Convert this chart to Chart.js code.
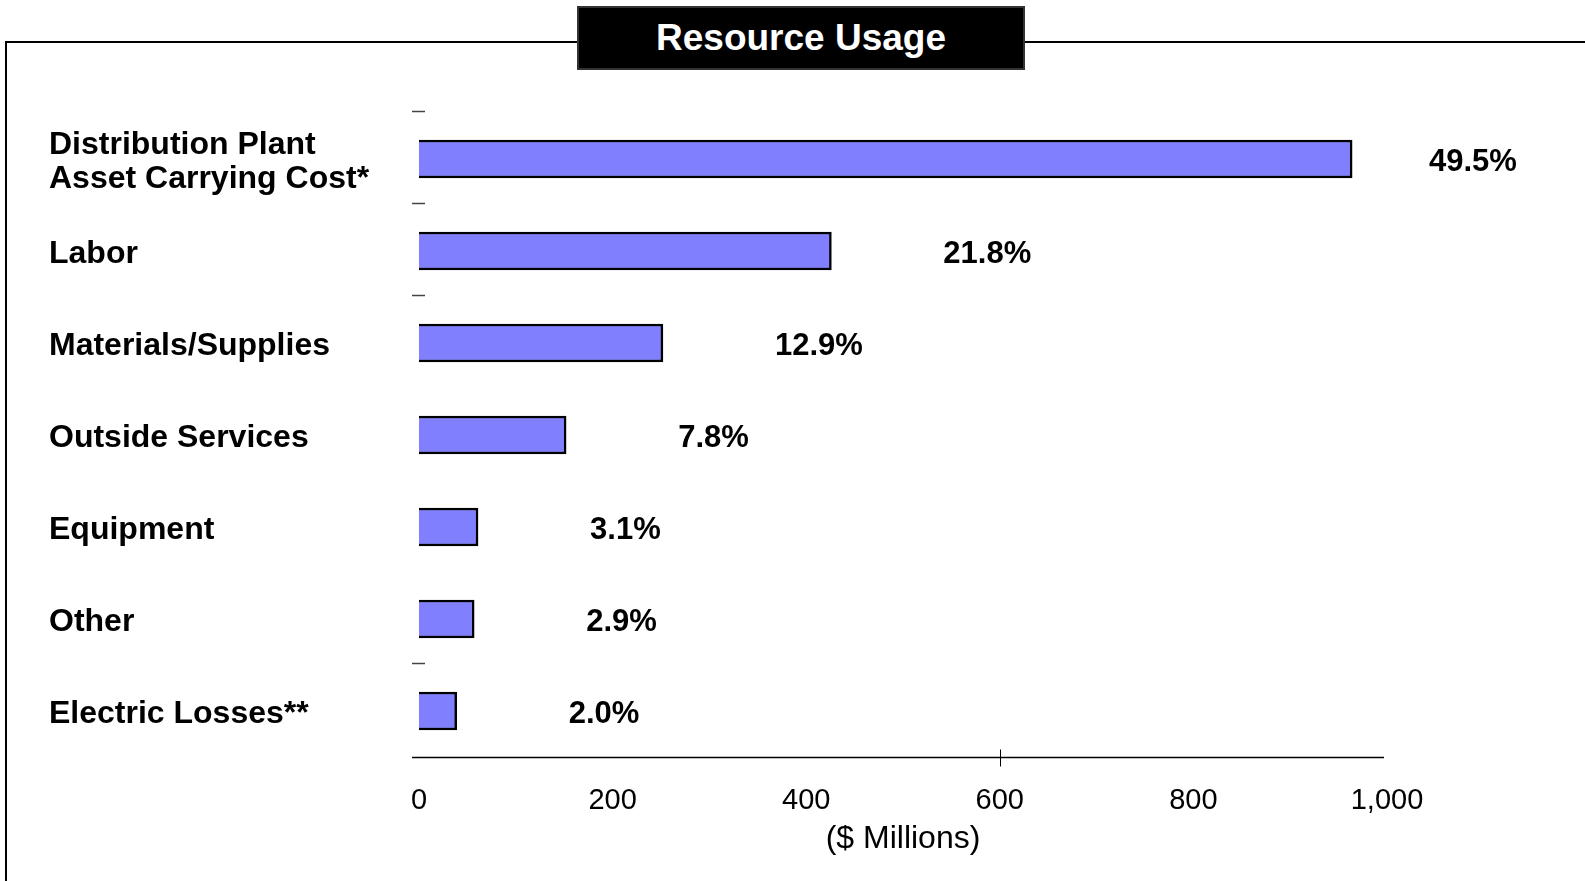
<!DOCTYPE html>
<html>
<head>
<meta charset="utf-8">
<title>Resource Usage</title>
<script src="https://cdn.jsdelivr.net/npm/chart.js@4.4.0/dist/chart.umd.min.js"></script>
<style>
    html, body { margin: 0; padding: 0; background: #fff; }
    body { width: 1585px; height: 881px; position: relative; overflow: hidden; font-family: "Liberation Sans", Arial, sans-serif; }
    #frame { position: absolute; left: 5px; top: 41px; width: 1600px; height: 900px; border-top: 2px solid #000; border-left: 2px solid #000; }
    #title { position: absolute; left: 577px; top: 6px; width: 444px; height: 60px; background: #000; border: 2px solid #333;
             color: #fff; font-weight: bold; font-size: 37px; line-height: 60px; text-align: center; }
    #chartWrap { position: absolute; left: 0; top: 0; width: 1585px; height: 881px; }
</style>
</head>
<body>
<div id="frame"></div>
<div id="title">Resource Usage</div>
<div id="chartWrap"><canvas id="usageChart" width="1585" height="881"></canvas></div>
<script>
// cost categories, top to bottom
const categories = [
    ['Distribution Plant', 'Asset Carrying Cost*'],
    'Labor',
    'Materials/Supplies',
    'Outside Services',
    'Equipment',
    'Other',
    'Electric Losses**'
];
// spend per category, $ millions
const spendMillions = [964, 426, 252, 152, 61, 57, 39];
// share of total spend, %
const sharePct = [49.5, 21.8, 12.9, 7.8, 3.1, 2.9, 2.0];
// x axis range and step
const xMin = 0;
const xMax = 1000;
const xStep = 200;
// boundaries that carry a small dash on the category axis, and the one marked x tick
const dashedBoundaries = [0, 1, 2, 6];
const markedTick = 600;

const FONT = '"Liberation Sans", Arial, Helvetica, sans-serif';

// percentage labels to the right of each bar
const shareLabels = {
    id: 'shareLabels',
    afterDatasetsDraw(chart) {
        const { ctx, chartArea } = chart;
        const meta = chart.getDatasetMeta(0);
        ctx.save();
        ctx.font = 'bold 31px ' + FONT;
        ctx.fillStyle = '#000';
        ctx.textAlign = 'left';
        ctx.textBaseline = 'middle';
        meta.data.forEach((bar, i) => {
            const x = Math.min(bar.x + 112, chartArea.right + 42);
            ctx.fillText(sharePct[i].toFixed(1) + '%', x, bar.y + 3);
        });
        ctx.restore();
    }
};

// axis line, boundary dashes and the single cross tick
const axisMarks = {
    id: 'axisMarks',
    afterDraw(chart) {
        const { ctx, chartArea } = chart;
        const xs = chart.scales.x;
        const ys = chart.scales.y;
        ctx.save();

        // value axis line, running a little past zero on the left
        const yAxis = Math.round(xs.top) + 0.5;
        ctx.strokeStyle = '#000';
        ctx.lineWidth = 1.5;
        ctx.beginPath();
        ctx.moveTo(chartArea.left - 7, yAxis);
        ctx.lineTo(chartArea.right - 3, yAxis);
        ctx.stroke();

        // cross tick
        const x = Math.round(xs.getPixelForValue(markedTick)) + 0.5;
        ctx.lineWidth = 1;
        ctx.beginPath();
        ctx.moveTo(x, yAxis - 8);
        ctx.lineTo(x, yAxis + 9);
        ctx.stroke();

        // category boundary dashes
        const step = ys.getPixelForValue(1) - ys.getPixelForValue(0);
        ctx.strokeStyle = '#444';
        ctx.lineWidth = 1.5;
        dashedBoundaries.forEach((i) => {
            const y = Math.round(ys.getPixelForValue(i) - step / 2) - 1.5;
            ctx.beginPath();
            ctx.moveTo(chartArea.left - 7, y);
            ctx.lineTo(chartArea.left + 6, y);
            ctx.stroke();
        });
        ctx.restore();
    }
};

const usageChart = new Chart(document.getElementById('usageChart').getContext('2d'), {
    type: 'bar',
    data: {
        labels: categories,
        datasets: [{
            data: spendMillions,
            backgroundColor: '#8080ff',
            borderColor: '#000',
            borderWidth: 2.5,
            barThickness: 38
        }]
    },
    options: {
        indexAxis: 'y',
        responsive: false,
        animation: false,
        layout: { padding: { left: 49, top: 113, right: 198, bottom: 0 } },
        plugins: {
            legend: { display: false },
            tooltip: { enabled: false }
        },
        scales: {
            x: {
                min: xMin,
                max: xMax,
                afterFit: (scale) => { scale.height = 124; },
                grid: { display: false },
                border: { display: false },
                ticks: {
                    stepSize: xStep,
                    padding: 19,
                    color: '#000',
                    font: { family: FONT, size: 29 },
                    callback: (v) => v.toLocaleString('en-US')
                },
                title: {
                    display: true,
                    text: '($ Millions)',
                    color: '#000',
                    font: { family: FONT, size: 32 },
                    padding: { top: 0, bottom: 23 }
                }
            },
            y: {
                afterFit: (scale) => { scale.width = 370; },
                border: { display: false },
                grid: { display: false },
                ticks: {
                    crossAlign: 'far',
                    color: '#000',
                    labelOffset: 3,
                    font: { family: FONT, size: 32, weight: 'bold', lineHeight: 1.08 }
                }
            }
        }
    },
    plugins: [shareLabels, axisMarks]
});
</script>
</body>
</html>
